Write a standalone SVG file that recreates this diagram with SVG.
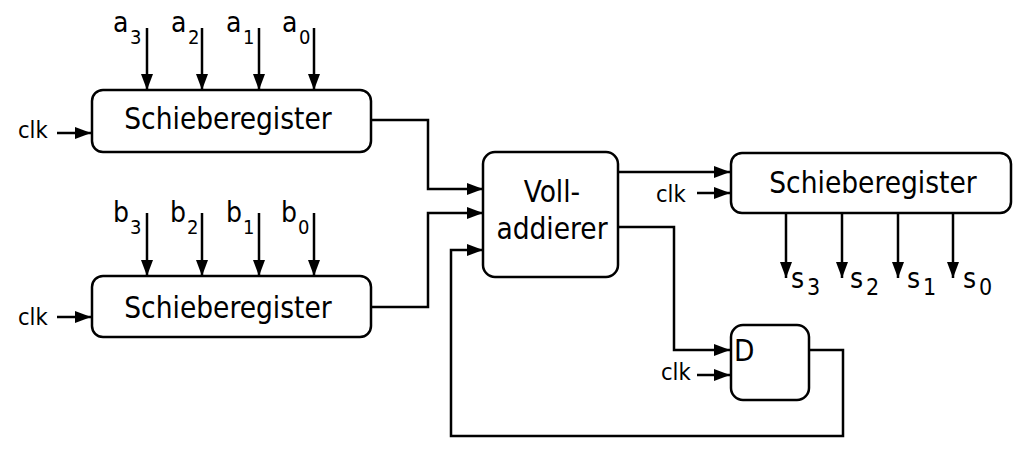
<svg xmlns="http://www.w3.org/2000/svg" width="1022" height="451" viewBox="0 0 1022 451">
<defs>
<marker id="ah" markerUnits="userSpaceOnUse" markerWidth="16" markerHeight="12" refX="16" refY="6" orient="auto">
<path d="M0,0 L16,6 L0,12 z" fill="#000"/>
</marker>
<style>
.box{fill:#fff;stroke:#000;stroke-width:2.5}
.a{fill:none;stroke:#000;stroke-width:2.5;marker-end:url(#ah)}
text{font-family:"DejaVu Sans Condensed","DejaVu Sans",sans-serif;font-stretch:condensed;fill:#000}
.big{font-size:29.5px}
.clk{font-size:23.5px}
</style>
</defs>
<rect width="1022" height="451" fill="#fff"/>
<g id="connectors">
<line class="a" x1="147" y1="28" x2="147" y2="90"/>
<line class="a" x1="202" y1="28" x2="202" y2="90"/>
<line class="a" x1="259" y1="28" x2="259" y2="90"/>
<line class="a" x1="314" y1="28" x2="314" y2="90"/>
<line class="a" x1="57" y1="133" x2="91" y2="133"/>
<line class="a" x1="147" y1="213" x2="147" y2="276"/>
<line class="a" x1="202" y1="213" x2="202" y2="276"/>
<line class="a" x1="259" y1="213" x2="259" y2="276"/>
<line class="a" x1="314" y1="213" x2="314" y2="276"/>
<line class="a" x1="57" y1="317" x2="91" y2="317"/>
<polyline class="a" points="371,120 428,120 428,189 483,189"/>
<polyline class="a" points="371,307 428,307 428,213 483,213"/>
<polyline class="a" points="809,350 843,350 843,436 451,436 451,250 483,250"/>
<polyline class="a" points="618,172 730,172"/>
<line class="a" x1="697" y1="193" x2="730" y2="193"/>
<polyline class="a" points="618,227 674,227 674,350 730,350"/>
<line class="a" x1="697" y1="375" x2="730" y2="375"/>
<line class="a" x1="786" y1="213" x2="786" y2="278"/>
<line class="a" x1="842" y1="213" x2="842" y2="278"/>
<line class="a" x1="898" y1="213" x2="898" y2="278"/>
<line class="a" x1="953" y1="213" x2="953" y2="278"/>
</g>
<g id="sr_a">
<rect class="box" x="92" y="90" width="279" height="62" rx="11"/>
<text class="big" x="228" y="129" text-anchor="middle">Schieberegister</text>
</g>
<g id="sr_b">
<rect class="box" x="92" y="276" width="279" height="61" rx="11"/>
<text class="big" x="228" y="318" text-anchor="middle">Schieberegister</text>
</g>
<g id="volladdierer">
<rect class="box" x="483" y="152" width="135" height="125" rx="12"/>
<text class="big" x="552" y="202" text-anchor="middle">Voll-</text>
<text class="big" x="552" y="239" text-anchor="middle">addierer</text>
</g>
<g id="sr_s">
<rect class="box" x="731" y="153" width="280" height="60" rx="11"/>
<text class="big" x="873" y="193" text-anchor="middle">Schieberegister</text>
</g>
<g id="dff">
<rect class="box" x="731" y="325" width="78" height="75" rx="12"/>
<text class="big" x="734" y="361">D</text>
</g>
<g id="labels" font-size="28">
<text x="113" y="32">a</text><text x="130" y="44" font-size="20">3</text>
<text x="171" y="32">a</text><text x="188" y="44" font-size="20">2</text>
<text x="226" y="32">a</text><text x="243" y="44" font-size="20">1</text>
<text x="282" y="32">a</text><text x="299" y="44" font-size="20">0</text>
<text x="113" y="222">b</text><text x="130" y="234" font-size="20">3</text>
<text x="170" y="222">b</text><text x="187" y="234" font-size="20">2</text>
<text x="226" y="222">b</text><text x="243" y="234" font-size="20">1</text>
<text x="281" y="222">b</text><text x="298" y="234" font-size="20">0</text>
<text x="791" y="288">s</text><text x="807" y="295" font-size="23">3</text>
<text x="850" y="288">s</text><text x="866" y="295" font-size="23">2</text>
<text x="907" y="288">s</text><text x="923" y="295" font-size="23">1</text>
<text x="963" y="288">s</text><text x="979" y="295" font-size="23">0</text>
<text class="clk" x="18" y="138">clk</text>
<text class="clk" x="18" y="325">clk</text>
<text class="clk" x="656" y="202">clk</text>
<text class="clk" x="661" y="380">clk</text>
</g>
</svg>
